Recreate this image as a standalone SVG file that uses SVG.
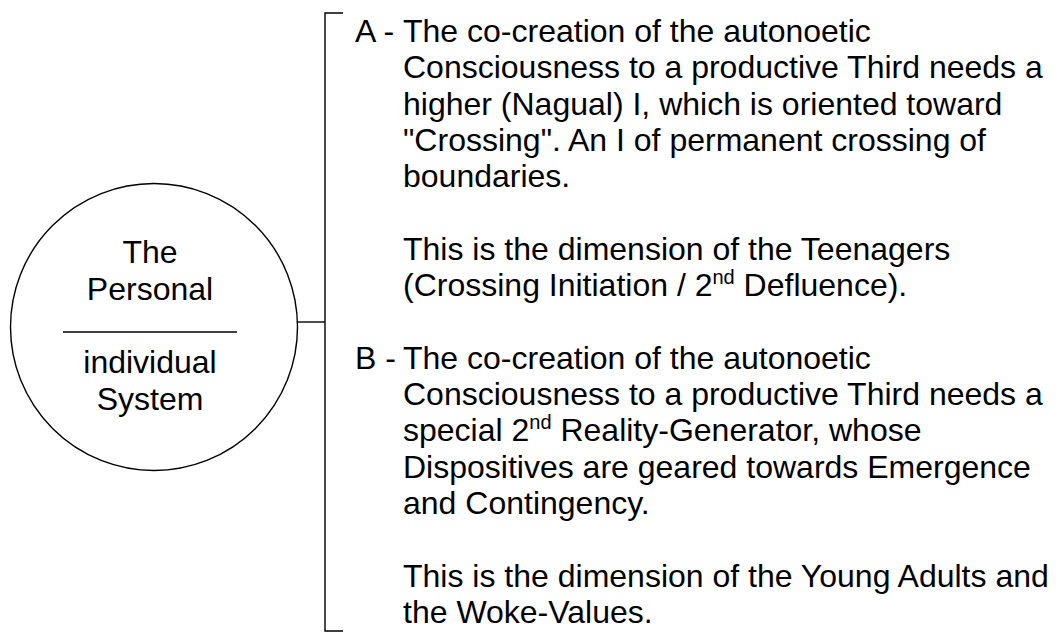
<svg xmlns="http://www.w3.org/2000/svg" width="1062" height="633" viewBox="0 0 1062 633">
<style>
  .t { font-family: "Liberation Sans", Arial, sans-serif; font-size: 32px; fill: #000; }
  .c { text-anchor: middle; }
  .ln { stroke: #000; stroke-width: 1.4; fill: none; }
  .sup { font-size: 20px; }
</style>
<rect width="1062" height="633" fill="#fff"/>
<g id="node-personal">
  <circle class="ln" cx="154" cy="327" r="143.5"/>
  <text class="t c" x="150" y="263">The</text>
  <text class="t c" x="150" y="300">Personal</text>
  <line class="ln" x1="63" y1="332" x2="237" y2="332"/>
  <text class="t c" x="150" y="373">individual</text>
  <text class="t c" x="150" y="410">System</text>
</g>
<g id="connectors">
  <line class="ln" x1="297" y1="322" x2="325" y2="322"/>
  <path class="ln" d="M343,13 H325 V631 H343"/>
</g>
<g id="node-a">
  <text class="t" x="355" y="42">A -</text>
  <text class="t" x="403" y="42">The co-creation of the autonoetic</text>
  <text class="t" x="403" y="78.3">Consciousness to a productive Third needs a</text>
  <text class="t" x="403" y="114.6">higher (Nagual) I, which is oriented toward</text>
  <text class="t" x="403" y="150.9">"Crossing". An I of permanent crossing of</text>
  <text class="t" x="403" y="187.2">boundaries.</text>
  <text class="t" x="403" y="259.8">This is the dimension of the Teenagers</text>
  <text class="t" x="403" y="296.1">(Crossing Initiation / 2<tspan class="sup" dy="-12">nd</tspan><tspan dy="12"> Defluence).</tspan></text>
</g>
<g id="node-b">
  <text class="t" x="355" y="368.7">B -</text>
  <text class="t" x="403" y="368.7">The co-creation of the autonoetic</text>
  <text class="t" x="403" y="405">Consciousness to a productive Third needs a</text>
  <text class="t" x="403" y="441.3">special 2<tspan class="sup" dy="-12">nd</tspan><tspan dy="12"> Reality-Generator, whose</tspan></text>
  <text class="t" x="403" y="477.6">Dispositives are geared towards Emergence</text>
  <text class="t" x="403" y="513.9">and Contingency.</text>
  <text class="t" x="403" y="586.5">This is the dimension of the Young Adults and</text>
  <text class="t" x="403" y="622.8">the Woke-Values.</text>
</g>
</svg>
